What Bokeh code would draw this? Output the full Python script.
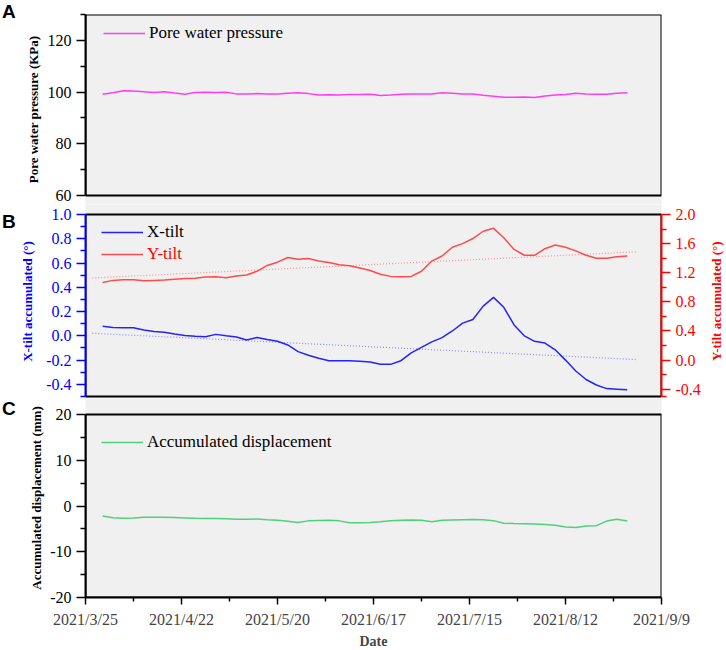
import numpy as np
import pandas as pd
from bokeh.plotting import figure
from bokeh.models import (Range1d, LinearAxis, FixedTicker, PrintfTickFormatter,
                          Legend, LegendItem, BoxAnnotation, Div)
from bokeh.layouts import column, row
from bokeh.embed import file_html
from bokeh.resources import INLINE

# ---------------- data ----------------
first_date = "2021-03-30"
step_days = 3
pore_pressure = [99.2, 99.7, 100.5, 100.4, 100.1, 99.8, 100.1, 99.6, 99.2, 99.8,
                 99.9, 99.8, 99.9, 99.3, 99.3, 99.4, 99.3, 99.3, 99.5, 99.7,
                 99.4, 98.9, 99.0, 98.9, 99.1, 99.1, 99.2, 98.7, 98.9, 99.2,
                 99.3, 99.3, 99.3, 99.7, 99.5, 99.3, 99.3, 98.8, 98.4, 98.0,
                 98.0, 98.1, 97.9, 98.5, 98.9, 99.1, 99.5, 99.3, 99.2, 99.2,
                 99.5, 99.7]
x_tilt = [0.078, 0.068, 0.066, 0.066, 0.048, 0.036, 0.030, 0.015, 0.003, -0.004,
          -0.008, 0.012, 0.000, -0.010, -0.035, -0.013, -0.030, -0.045, -0.075, -0.130,
          -0.160, -0.185, -0.205, -0.205, -0.205, -0.210, -0.215, -0.235, -0.235, -0.205,
          -0.140, -0.095, -0.050, -0.015, 0.040, 0.105, 0.135, 0.245, 0.317, 0.235,
          0.090, 0.000, -0.045, -0.060, -0.115, -0.200, -0.290, -0.360, -0.405, -0.435,
          -0.440, -0.445]
y_tilt = [1.067, 1.095, 1.105, 1.105, 1.090, 1.095, 1.100, 1.110, 1.120, 1.125,
          1.140, 1.145, 1.130, 1.155, 1.170, 1.220, 1.300, 1.345, 1.410, 1.385,
          1.395, 1.360, 1.340, 1.310, 1.295, 1.265, 1.230, 1.180, 1.150, 1.145,
          1.150, 1.220, 1.360, 1.430, 1.550, 1.600, 1.670, 1.770, 1.810, 1.680,
          1.520, 1.440, 1.440, 1.530, 1.580, 1.550, 1.500, 1.440, 1.400, 1.400,
          1.420, 1.430]
displacement = [-2.2, -2.55, -2.7, -2.6, -2.45, -2.45, -2.45, -2.5, -2.6, -2.7,
                -2.75, -2.75, -2.8, -2.9, -2.9, -2.85, -3.0, -3.1, -3.35, -3.6,
                -3.25, -3.15, -3.1, -3.25, -3.65, -3.65, -3.6, -3.45, -3.2, -3.1,
                -3.05, -3.1, -3.45, -3.1, -3.05, -3.0, -2.95, -3.0, -3.2, -3.75,
                -3.85, -3.9, -3.95, -4.05, -4.2, -4.6, -4.7, -4.35, -4.3, -3.3,
                -2.9, -3.3]
trend_dates = ["2021-03-27", "2021-09-02"]
x_tilt_trend = [0.021, -0.196]
y_tilt_trend = [1.128, 1.488]
x_tick_labels = ["2021/3/25", "2021/4/22", "2021/5/20", "2021/6/17",
                 "2021/7/15", "2021/8/12", "2021/9/9"]
x_minor_labels = ["2021/4/8", "2021/5/6", "2021/6/3", "2021/7/1",
                  "2021/7/29", "2021/8/26"]
a_ticks = [60, 80, 100, 120]
a_minor = [70, 90, 110, 130]
bl_ticks = [-0.4, -0.2, 0.0, 0.2, 0.4, 0.6, 0.8, 1.0]
bl_minor = [-0.5, -0.3, -0.1, 0.1, 0.3, 0.5, 0.7, 0.9]
br_ticks = [-0.4, 0.0, 0.4, 0.8, 1.2, 1.6, 2.0]
br_minor = [-0.5, -0.2, 0.2, 0.6, 1.0, 1.4, 1.8]
c_ticks = [-20, -10, 0, 10, 20]
c_minor = [-15, -5, 5, 15]

# ---------------- helpers ----------------
dates = pd.date_range(first_date, periods=len(pore_pressure), freq=f"{step_days}D")
EPOCH = pd.Timestamp("1970-01-01")


def to_ms(label):
    return float((pd.Timestamp(label.replace("/", "-")) - EPOCH).total_seconds() * 1000)


x_tick_ms = [to_ms(t) for t in x_tick_labels]
x_minor_ms = [to_ms(t) for t in x_minor_labels]
x_range = Range1d(start=pd.Timestamp("2021-03-25"), end=pd.Timestamp("2021-09-09"))

SERIF = "Liberation Serif"
BG = "#f0f0f0"
FRAME_W = 576
LETTER_W = 16


def ext_range(lo, hi, panel_px, below_px, above_px):
    upp = (hi - lo) / panel_px
    return Range1d(lo - below_px * upp, hi + above_px * upp)


def style_axis(ax, color, ticks, minor, fmt, label, standoff):
    ax.ticker = FixedTicker(ticks=ticks, minor_ticks=minor)
    ax.formatter = PrintfTickFormatter(format=fmt)
    ax.bounds = (min(ticks + minor), max(ticks + minor))
    ax.axis_line_color = color
    ax.axis_line_width = 2
    ax.major_tick_line_color = color
    ax.minor_tick_line_color = color
    ax.major_tick_line_width = 1.5
    ax.minor_tick_line_width = 1.5
    ax.major_tick_out = 9
    ax.major_tick_in = 0
    ax.minor_tick_out = 5
    ax.minor_tick_in = 0
    ax.major_label_text_font = SERIF
    ax.major_label_text_font_size = "16px"
    ax.major_label_text_color = color
    ax.major_label_standoff = 5
    ax.axis_label = label
    ax.axis_label_text_font = SERIF
    ax.axis_label_text_font_size = "13px"
    ax.axis_label_text_font_style = "bold"
    ax.axis_label_text_color = color
    ax.axis_label_standoff = standoff


def make_fig(frame_h, y_range, top, bottom, right, with_x):
    p = figure(frame_width=FRAME_W, frame_height=frame_h, x_range=x_range, y_range=y_range,
               x_axis_type="datetime", x_axis_location="below" if with_x else None,
               toolbar_location=None, output_backend="svg",
               min_border_left=85 - LETTER_W, min_border_right=right, min_border_top=top,
               min_border_bottom=bottom, background_fill_color=BG,
               border_fill_color="white", outline_line_color=None)
    p.xgrid.grid_line_color = None
    p.ygrid.grid_line_color = None
    return p


def make_legend(label, renderer, loc, color="black"):
    return Legend(items=[LegendItem(label=label, renderers=[renderer])], location=loc,
                  border_line_color=None, background_fill_alpha=0, padding=0, margin=0,
                  glyph_width=42, glyph_height=20, label_height=20, label_standoff=4,
                  label_text_font=SERIF, label_text_font_size="17px",
                  label_text_color=color)


def panel_box(p, lo, hi):
    p.add_layout(BoxAnnotation(bottom=lo, top=hi, fill_alpha=0, line_color="black",
                               line_alpha=1, line_width=2, level="underlay"))


def letter_div(text, height, pad):
    return Div(text=(f"<div style=\"padding-top:{pad}px;padding-left:2px;line-height:1;"
                     f"font-family:'Liberation Sans',Arial,sans-serif;font-weight:bold;"
                     f"font-size:19px;color:black;\">{text}</div>"),
               width=LETTER_W, height=height, margin=0)


# ---------------- panel A ----------------
pA = make_fig(190, ext_range(60, 130, 181, 9, 0), 14, 0, 65, False)
style_axis(pA.yaxis[0], "black", a_ticks, a_minor, "%d", "Pore water pressure (KPa)", 4)
panel_box(pA, 60, 130)
rA = pA.line(dates, pore_pressure, line_color="#ff3cf5", line_width=1.5)
pA.add_layout(make_legend("Pore water pressure", rA, (18, 161)))

# ---------------- panel B ----------------
pB = make_fig(194, ext_range(-0.5, 1.0, 182, 2, 10), 0, 0, 47, False)
pB.extra_y_ranges = {"ytilt": ext_range(-0.5, 2.0, 182, 2, 10)}
style_axis(pB.yaxis[0], "#0000ff", bl_ticks, bl_minor, "%.1f", "X-tilt accumulated (°)", 8)
right_ax = LinearAxis(y_range_name="ytilt")
style_axis(right_ax, "#ff0000", br_ticks, br_minor, "%.1f", None, 0)
pB.add_layout(right_ax, "right")
panel_box(pB, -0.5, 1.0)

td = pd.to_datetime(trend_dates)
pB.line(td, x_tilt_trend, line_color="#8c8cff", line_width=1.2, line_dash="1 2")
pB.line(td, y_tilt_trend, line_color="#ff9090", line_width=1.2, line_dash="1 2",
        y_range_name="ytilt")
rX = pB.line(dates, x_tilt, line_color="#2323ff", line_width=1.5)
rY = pB.line(dates, y_tilt, line_color="#ff4b4b", line_width=1.5, y_range_name="ytilt")
pB.add_layout(make_legend("X-tilt", rX, (16, 156)))
pB.add_layout(make_legend("Y-tilt", rY, (16, 134), "#ff0000"))

right_label = Div(text=("<div style=\"writing-mode:vertical-rl;transform:rotate(180deg);"
                        "margin-top:6px;height:182px;width:18px;text-align:center;"
                        "font-family:'Liberation Serif',serif;font-weight:bold;"
                        "font-size:13px;line-height:18px;color:#ff0000;\">"
                        "Y-tilt accumulated (°)</div>"),
                  width=18, height=194, margin=0)

# ---------------- panel C ----------------
pC = make_fig(199, ext_range(-20, 20, 183, 0, 16), 0, 50, 65, True)
style_axis(pC.yaxis[0], "black", c_ticks, c_minor, "%d", "Accumulated displacement (mm)", 3)
xa = pC.xaxis[0]
xa.ticker = FixedTicker(ticks=x_tick_ms, minor_ticks=x_minor_ms)
xa.major_label_overrides = {ms: lab for ms, lab in zip(x_tick_ms, x_tick_labels)}
xa.axis_line_width = 2
xa.major_tick_line_width = 1.5
xa.minor_tick_line_width = 1.5
xa.major_tick_out = 7
xa.major_tick_in = 0
xa.minor_tick_out = 4
xa.minor_tick_in = 0
xa.major_label_text_font = SERIF
xa.major_label_text_font_size = "16px"
xa.major_label_standoff = 6
xa.axis_label = "Date"
xa.axis_label_text_font = SERIF
xa.axis_label_text_font_size = "14px"
xa.axis_label_text_font_style = "bold"
xa.axis_label_standoff = 3
panel_box(pC, -20, 20)
rC = pC.line(dates, displacement, line_color="#50d07c", line_width=1.5)
pC.add_layout(make_legend("Accumulated displacement", rC, (16, 145)))

layout = column(
    row(letter_div("A", 204, 2), pA, spacing=0),
    row(letter_div("B", 194, 8), pB, right_label, spacing=0),
    row(letter_div("C", 249, 1), pC, spacing=0),
    spacing=0,
)
open("out.html", "w").write(file_html(layout, INLINE))
